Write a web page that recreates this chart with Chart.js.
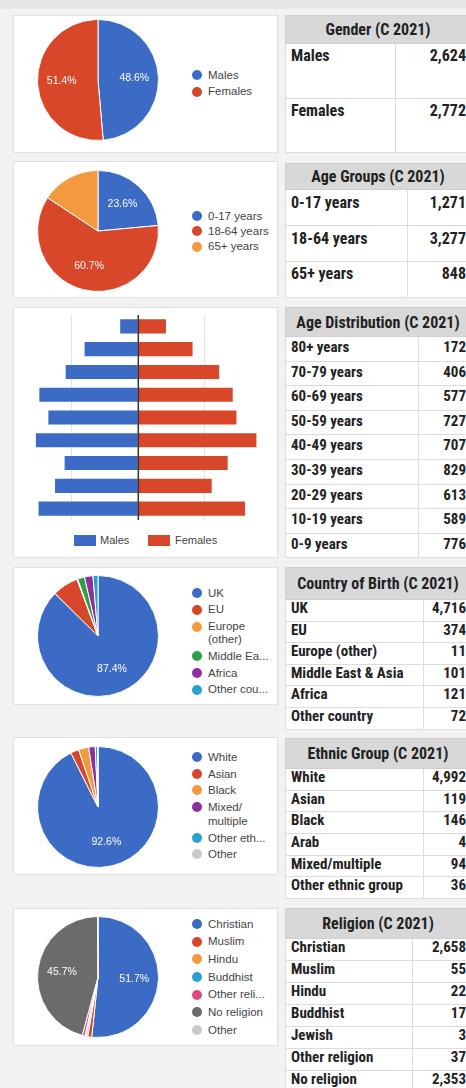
<!DOCTYPE html>
<html><head><meta charset="utf-8">
<script src="https://cdn.jsdelivr.net/npm/chart.js@4/dist/chart.umd.min.js"></script>
<style>
html,body{margin:0;padding:0;}
body{width:466px;height:1088px;background:#f2f2f2;position:relative;overflow:hidden;font-family:"Liberation Sans",Arial,sans-serif;}
.band{position:absolute;left:0;top:0;width:466px;height:9px;background:#e7e7e7;}
.panel{position:absolute;left:13px;width:265px;background:#fff;border:1px solid #e1e1e1;box-sizing:border-box;}
canvas{position:absolute;}
.legend{position:absolute;left:192px;font-size:11.5px;color:#444;}
.item{display:flex;align-items:flex-start;white-space:pre-line;}
.dot{width:10px;height:10px;border-radius:50%;margin-right:6px;flex:none;}
.plegend{position:absolute;top:535px;font-size:11px;color:#444;line-height:11px;}
.box{position:absolute;width:22px;height:11px;top:0;}
table{position:absolute;left:285px;width:186px;border-collapse:collapse;table-layout:fixed;font-family:"Liberation Sans Narrow","Arial Narrow","Roboto Condensed","DejaVu Sans Condensed",sans-serif;font-weight:bold;color:#222;background:#fff;border:1px solid #cfcfcf;}
th{background:#d8d8d8;font-size:16px;text-align:center;vertical-align:middle;padding:0;border:1px solid #cfcfcf;}
td{border:1px solid #dcdcdc;vertical-align:top;line-height:17px;padding:0 3px 0 5px;white-space:nowrap;overflow:hidden;}
td.n{text-align:right;padding-right:4px;}
</style>
</head><body>
<div class="band"></div>

<div class="panel" style="top:15px;height:138px"></div>
<div class="panel" style="top:161px;height:137px"></div>
<div class="panel" style="top:307px;height:251px"></div>
<div class="panel" style="top:567px;height:138px"></div>
<div class="panel" style="top:737px;height:138px"></div>
<div class="panel" style="top:908px;height:138px"></div>

<canvas id="c1" width="122" height="122" style="left:37px;top:19px"></canvas>
<canvas id="c2" width="122" height="122" style="left:37px;top:170px"></canvas>
<canvas id="c3" width="265" height="216" style="left:13px;top:307px"></canvas>
<canvas id="c4" width="122" height="122" style="left:37px;top:575px"></canvas>
<canvas id="c5" width="122" height="122" style="left:37px;top:746px"></canvas>
<canvas id="c6" width="122" height="122" style="left:37px;top:916px"></canvas>

<div id="pl" ></div>

<script>
// ---------- DATA ----------
const genderLabels = ['Males','Females'];
const genderValues = [2624, 2772];

const ageGroupLabels = ['0-17 years','18-64 years','65+ years'];
const ageGroupValues = [1271, 3277, 848];

const ageDistLabels = ['80+ years','70-79 years','60-69 years','50-59 years','40-49 years','30-39 years','20-29 years','10-19 years','0-9 years'];
const ageDistTotals = [172, 406, 577, 727, 707, 829, 613, 589, 776];
const ageDistMales   = [68, 202, 273, 372, 338, 385, 277, 313, 375];
const ageDistFemales = [104, 204, 304, 355, 369, 444, 336, 276, 401];

const birthLabels = ['UK','EU','Europe (other)','Middle East & Asia','Africa','Other country'];
const birthValues = [4716, 374, 11, 101, 121, 72];
const birthLegend = ['UK','EU','Europe\n(other)','Middle Ea...','Africa','Other cou...'];

const ethnicTableLabels = ['White','Asian','Black','Arab','Mixed/multiple','Other ethnic group'];
const ethnicTableValues = [4992, 119, 146, 4, 94, 36];
const ethnicPieLabels = ['White','Asian','Black','Mixed/multiple','Other ethnic group','Other'];
const ethnicPieValues = [4992, 119, 146, 94, 36, 4];
const ethnicLegend = ['White','Asian','Black','Mixed/\nmultiple','Other eth...','Other'];

const religionTableLabels = ['Christian','Muslim','Hindu','Buddhist','Jewish','Other religion','No religion'];
const religionTableValues = [2658, 55, 22, 17, 3, 37, 2353];
const religionPieLabels = ['Christian','Muslim','Hindu','Buddhist','Other religion','No religion','Other'];
const religionPieValues = [2658, 55, 22, 17, 37, 2353, 3];
const religionLegend = ['Christian','Muslim','Hindu','Buddhist','Other reli...','No religion','Other'];

// ---------- STYLE ----------
const C = {blue:'#3b6bc5', red:'#d9472b', orange:'#f39a3e', green:'#2e9e4a', purple:'#8f2f9f', cyan:'#27a2cf', pink:'#dc4b7f', dgrey:'#6b6b6b', lgrey:'#c9c9c9'};

const pctLabels = {
  id:'pctLabels',
  afterDatasetsDraw(chart, args, opts){
    const ctx = chart.ctx, ds = chart.data.datasets[0];
    const total = ds.data.reduce((a,b)=>a+b,0);
    const meta = chart.getDatasetMeta(0);
    ctx.save();
    ctx.fillStyle = '#fff';
    ctx.font = '10.5px "Liberation Sans", Arial, sans-serif';
    ctx.textAlign = 'center'; ctx.textBaseline = 'middle';
    meta.data.forEach((arc,i)=>{
      const frac = ds.data[i]/total;
      if (frac < 0.2) return;
      const p = arc.getProps(['x','y','startAngle','endAngle','outerRadius'], true);
      const mid = (p.startAngle+p.endAngle)/2, r = p.outerRadius*0.6;
      ctx.fillText((frac*100).toFixed(1)+'%', p.x+Math.cos(mid)*r, p.y+Math.sin(mid)*r);
    });
    ctx.restore();
  }
};

function pie(id, labels, values, colors, legendText, legendTop, lineH, gap){
  const ch = new Chart(document.getElementById(id), {
    type:'pie',
    data:{labels, datasets:[{data:values, backgroundColor:colors, borderColor:'#fff', borderWidth:1}]},
    options:{responsive:false, animation:false, layout:{padding:0},
      plugins:{legend:{display:false}, tooltip:{enabled:false}}},
    plugins:[pctLabels]
  });
  const lg = document.createElement('div');
  lg.className = 'legend';
  lg.style.top = legendTop + 'px';
  lg.style.lineHeight = lineH + 'px';
  ch.data.labels.forEach((l,i)=>{
    const it = document.createElement('div');
    it.className = 'item';
    it.style.marginBottom = gap + 'px';
    const d = document.createElement('span');
    d.className = 'dot';
    d.style.background = ch.data.datasets[0].backgroundColor[i];
    d.style.marginTop = ((lineH-10)/2) + 'px';
    const t = document.createElement('span');
    t.textContent = legendText ? legendText[i] : l;
    it.appendChild(d); it.appendChild(t);
    lg.appendChild(it);
  });
  document.body.appendChild(lg);
  return ch;
}

pie('c1', genderLabels, genderValues, [C.blue, C.red], null, 68.5, 13, 3.7);
pie('c2', ageGroupLabels, ageGroupValues, [C.blue, C.red, C.orange], null, 209.5, 13, 2.3);
pie('c4', birthLabels, birthValues, [C.blue, C.red, C.orange, C.green, C.purple, C.cyan], birthLegend, 586.8, 13, 3.7);
pie('c5', ethnicPieLabels, ethnicPieValues, [C.blue, C.red, C.orange, C.purple, C.cyan, C.lgrey], ethnicLegend, 750, 14, 2.7);
pie('c6', religionPieLabels, religionPieValues, [C.blue, C.red, C.orange, C.cyan, C.pink, C.dgrey, C.lgrey], religionLegend, 917.5, 13, 4.7);

// ---------- PYRAMID ----------
const baseline = {
  id:'baseline',
  afterDatasetsDraw(chart){
    const x = chart.scales.x.getPixelForValue(0), a = chart.chartArea, ctx = chart.ctx;
    ctx.save(); ctx.strokeStyle = '#333'; ctx.lineWidth = 1.5;
    ctx.beginPath(); ctx.moveTo(x, a.top); ctx.lineTo(x, a.bottom); ctx.stroke(); ctx.restore();
  }
};
new Chart(document.getElementById('c3'), {
  type:'bar',
  data:{labels:ageDistLabels, datasets:[
    {label:'Males', data:ageDistMales.map(v=>-v), backgroundColor:C.blue, categoryPercentage:0.62, barPercentage:1},
    {label:'Females', data:ageDistFemales, backgroundColor:C.red, categoryPercentage:0.62, barPercentage:1}
  ]},
  options:{indexAxis:'y', responsive:false, animation:false,
    layout:{padding:{left:5.6, right:20, top:8, bottom:3}},
    plugins:{legend:{display:false}, tooltip:{enabled:false}},
    scales:{
      x:{stacked:true, min:-450, max:450, ticks:{display:false, stepSize:250}, border:{display:false},
         grid:{drawTicks:false, color:c=>Math.abs(c.tick.value)===250?'#e4e4e4':'rgba(0,0,0,0)'}},
      y:{stacked:true, display:false}
    }},
  plugins:[baseline]
});
const pl = document.getElementById('pl');
[['Males',C.blue,74,100],['Females',C.red,148,175]].forEach(([t,c,bx,tx])=>{
  const b = document.createElement('div'); b.className='plegend'; b.style.left=bx+'px';
  b.innerHTML = '<div class="box" style="background:'+c+';left:0"></div>';
  const s = document.createElement('div'); s.className='plegend'; s.style.left=tx+'px'; s.textContent=t;
  pl.appendChild(b); pl.appendChild(s);
});

// ---------- TABLES ----------
function table(title, labels, values, top, headH, rowHs, col1, fs, padTop){
  const tb = document.createElement('table');
  tb.style.top = top + 'px';
  let h = '<colgroup><col style="width:'+col1+'px"><col></colgroup>';
  h += '<tr style="height:'+headH+'px"><th colspan="2">'+title+'</th></tr>';
  labels.forEach((l,i)=>{
    const rh = Array.isArray(rowHs) ? rowHs[i] : rowHs;
    h += '<tr style="height:'+rh+'px"><td style="font-size:'+fs+'px;padding-top:'+padTop+'px">'+l+'</td><td class="n" style="font-size:'+fs+'px;padding-top:'+padTop+'px">'+values[i].toLocaleString('en-US')+'</td></tr>';
  });
  tb.innerHTML = h;
  document.body.appendChild(tb);
}
table('Gender (C 2021)', genderLabels, genderValues, 15, 28.3, [54.4,54], 110, 16, 3);
table('Age Groups (C 2021)', ageGroupLabels, ageGroupValues, 163.3, 26, 35.8, 122, 16, 3.5);
table('Age Distribution (C 2021)', ageDistLabels, ageDistTotals, 307, 29, 24.6, 133, 15, 2);
table('Country of Birth (C 2021)', birthLabels, birthValues, 567.3, 31.7, 21.6, 138, 15, 0);
table('Ethnic Group (C 2021)', ethnicTableLabels, ethnicTableValues, 738.3, 30, 21.6, 138, 15, 0);
table('Religion (C 2021)', religionTableLabels, religionTableValues, 908.3, 30, 21.9, 127, 15, 0);
</script>
</body></html>
